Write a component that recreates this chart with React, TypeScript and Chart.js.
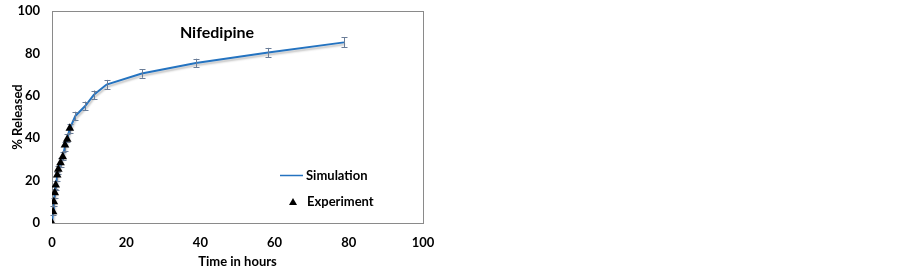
import React, { useEffect, useRef } from "react";
import { Chart, registerables } from "chart.js";

Chart.register(...registerables);

const chartTitle = "Nifedipine";
const xAxisTitle = "Time in hours";
const yAxisTitle = "% Released";
const simLabel = "Simulation";
const expLabel = "Experiment";

const xTicks = [0, 20, 40, 60, 80, 100];
const yTicks = [0, 20, 40, 60, 80, 100];

const simTimes = [0, 0.3, 0.5, 0.75, 1, 1.4, 1.7, 2.3, 2.9, 3.5, 4.1, 4.8, 6.3, 9, 11.3, 14.7, 24.2, 38.8, 58.3, 78.7];
const simReleased = [0, 5.8, 10, 14, 17.6, 22, 25, 28.5, 31.5, 36, 40, 44.5, 50.5, 55.3, 60.5, 65.3, 70.5, 75.5, 80.4, 85.2];
const simError = [0, 2, 2, 2, 2, 2, 2, 2, 2, 2, 2, 2.2, 2, 2, 2, 2.2, 2, 2, 2.2, 2.4];

const expTimes = [0, 0.3, 0.5, 0.75, 1, 1.4, 1.7, 2.3, 2.9, 3.5, 4.1, 4.8];
const expReleased = [0, 5.3, 10, 14.3, 17.9, 22.6, 25.3, 28.4, 31.3, 36.8, 39.5, 44.7];

const FONT = "Lato, 'Liberation Sans', sans-serif";

const decorPlugin = {
  id: "decor",
  beforeDatasetsDraw(chart: any) {
    const { ctx, chartArea } = chart;
    ctx.save();
    ctx.strokeStyle = "#8a8a8a";
    ctx.lineWidth = 1;
    ctx.strokeRect(chartArea.left + 0.5, chartArea.top + 0.5, chartArea.right - chartArea.left, chartArea.bottom - chartArea.top);
    ctx.restore();
  },
  beforeDatasetDraw(chart: any, args: any) {
    if (args.index === 1) {
      const ctx = chart.ctx;
      ctx.save();
      ctx.shadowColor = "rgba(0,0,0,0.25)";
      ctx.shadowOffsetX = 1;
      ctx.shadowOffsetY = 2;
      ctx.shadowBlur = 2;
    }
  },
  afterDatasetDraw(chart: any, args: any) {
    if (args.index !== 1) return;
    const ctx = chart.ctx;
    ctx.restore();
    const xs = chart.scales.x;
    const ys = chart.scales.y;
    ctx.save();
    ctx.strokeStyle = "#6a7d98";
    ctx.lineWidth = 1;
    for (let i = 0; i < simTimes.length; i++) {
      if (!simError[i]) continue;
      const x = Math.round(xs.getPixelForValue(simTimes[i])) + 0.5;
      const y1 = ys.getPixelForValue(simReleased[i] + simError[i]);
      const y2 = ys.getPixelForValue(simReleased[i] - simError[i]);
      ctx.beginPath();
      ctx.moveTo(x, y1);
      ctx.lineTo(x, y2);
      ctx.moveTo(x - 3, Math.round(y1) + 0.5);
      ctx.lineTo(x + 3, Math.round(y1) + 0.5);
      ctx.moveTo(x - 3, Math.round(y2) + 0.5);
      ctx.lineTo(x + 3, Math.round(y2) + 0.5);
      ctx.stroke();
    }
    ctx.restore();
  },
  afterDraw(chart: any) {
    const { ctx, chartArea } = chart;
    ctx.save();
    ctx.fillStyle = "#000";
    ctx.font = `bold 16px ${FONT}`;
    ctx.textAlign = "center";
    ctx.textBaseline = "middle";
    ctx.fillText(chartTitle, chartArea.left + 165, chartArea.top + 22);

    ctx.font = `bold 13px ${FONT}`;
    ctx.textAlign = "left";
    const lx = chartArea.left + 228;
    // line sample
    ctx.strokeStyle = "#2473c0";
    ctx.lineWidth = 1.5;
    ctx.beginPath();
    ctx.moveTo(lx, chartArea.top + 164.5);
    ctx.lineTo(lx + 23, chartArea.top + 164.5);
    ctx.stroke();
    ctx.fillStyle = "#000";
    ctx.fillText(simLabel, lx + 26, chartArea.top + 165);
    // triangle sample
    const tx = lx + 13;
    const ty = chartArea.top + 191;
    ctx.beginPath();
    ctx.moveTo(tx, ty - 4);
    ctx.lineTo(tx + 4, ty + 3);
    ctx.lineTo(tx - 4, ty + 3);
    ctx.closePath();
    ctx.fill();
    ctx.fillText(expLabel, lx + 27, chartArea.top + 191);
    ctx.restore();
  },
};

export default function App() {
  const ref = useRef<HTMLCanvasElement | null>(null);
  useEffect(() => {
    if (!ref.current) return;
    const chart = new Chart(ref.current, {
      type: "scatter",
      data: {
        datasets: [
          {
            label: expLabel,
            data: expTimes.map((t, i) => ({ x: t, y: expReleased[i] })),
            pointStyle: "triangle",
            pointRadius: 5,
            backgroundColor: "#000",
            borderColor: "#000",
            borderWidth: 0,
            showLine: false,
          },
          {
            label: simLabel,
            data: simTimes.map((t, i) => ({ x: t, y: simReleased[i] })),
            showLine: true,
            pointRadius: 0,
            borderColor: "#2473c0",
            borderWidth: 2,
            backgroundColor: "#2473c0",
          },
        ],
      },
      plugins: [decorPlugin],
      options: {
        animation: false,
        responsive: false,
        events: [],
        layout: { padding: { left: 0, top: 11, right: 479, bottom: 0 } },
        plugins: {
          legend: { display: false },
          tooltip: { enabled: false },
          title: { display: false },
        },
        scales: {
          x: {
            type: "linear",
            min: 0,
            max: 100,
            afterBuildTicks: (s: any) => {
              s.ticks = xTicks.map((v) => ({ value: v }));
            },
            afterFit: (s: any) => {
              s.height = 48;
              s.paddingLeft = 0;
              s.paddingRight = 0;
            },
            grid: { display: false, drawTicks: false },
            border: { display: false },
            ticks: {
              padding: 12,
              color: "#000",
              font: { family: FONT, size: 13, weight: "bold" },
            },
            title: {
              display: true,
              text: xAxisTitle,
              color: "#000",
              font: { family: FONT, size: 13, weight: "bold" },
              padding: { top: 0, bottom: 1 },
            },
          },
          y: {
            type: "linear",
            min: 0,
            max: 100,
            afterBuildTicks: (s: any) => {
              s.ticks = yTicks.map((v) => ({ value: v }));
            },
            afterFit: (s: any) => {
              s.width = 52;
              s.paddingTop = 0;
              s.paddingBottom = 0;
            },
            grid: { display: false, drawTicks: false },
            border: { display: false },
            ticks: {
              padding: 12,
              color: "#000",
              font: { family: FONT, size: 13, weight: "bold" },
            },
            title: {
              display: true,
              text: yAxisTitle,
              color: "#000",
              font: { family: FONT, size: 13, weight: "bold" },
              padding: { top: 10, bottom: 0 },
            },
          },
        },
      },
    });
    return () => chart.destroy();
  }, []);
  return (
    <div style={{ position: "fixed", left: 0, top: 0, width: 902, height: 271, background: "#fff" }}>
      <canvas ref={ref} width={902} height={271} style={{ display: "block" }} />
    </div>
  );
}
